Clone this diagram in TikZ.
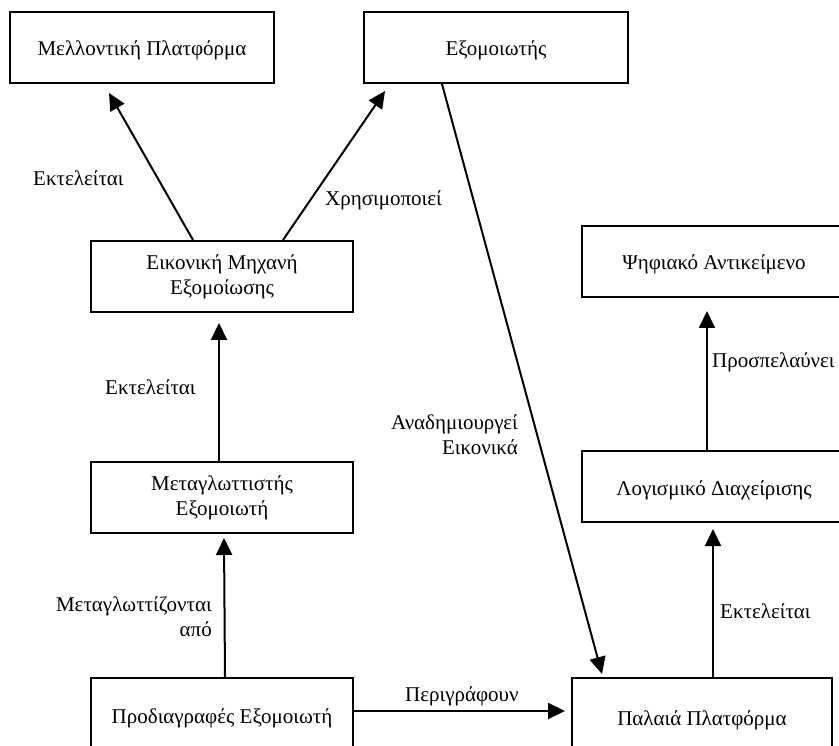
\documentclass[tikz,border=0pt]{standalone}
\usepackage{fontspec}
\setmainfont{Liberation Serif}
\usetikzlibrary{arrows.meta}
\tikzset{
  box/.style={draw=black, line width=2pt, rectangle, inner sep=0pt, minimum width=264pt, minimum height=71pt, align=center},
  onel/.style={text height=17pt, text depth=0pt},
  arr/.style={draw=black, line width=2pt, -{Triangle[length=17pt,width=16pt]}},
  lbl/.style={inner sep=0pt},
}
\begin{document}
\begin{tikzpicture}[x=1pt, y=-1pt, font=\fontsize{21}{25}\selectfont]
\useasboundingbox (0,0) rectangle (839,746);
\clip (0,0) rectangle (839,746);
% boxes
\node[box, onel] (fut) at (142,47.5) {Μελλοντική Πλατφόρμα};
\node[box, onel] (emu) at (496,47.5) {Εξομοιωτής};
\node[box, minimum width=262pt] (evm) at (222,276.5) {Εικονική Μηχανή\\Εξομοίωσης};
\node[box, minimum width=262pt] (comp) at (222,497.5) {Μεταγλωττιστής\\Εξομοιωτή};
\node[box, onel, minimum width=262pt, minimum height=74pt] (spec) at (222,715) {Προδιαγραφές Εξομοιωτή};
\node[box, onel] (dig) at (714,261.5) {Ψηφιακό Αντικείμενο};
\node[box, onel] (mgmt) at (714,486.5) {Λογισμικό Διαχείρισης};
\node[box, onel, minimum width=260pt, minimum height=78pt] (old) at (702,717) {Παλαιά Πλατφόρμα};
% connectors
\draw[arr] ([xshift=-29pt]evm.north) -- ([xshift=-33pt,yshift=-9pt]fut.south);
\draw[arr] ([xshift=61pt]evm.north) -- ([xshift=-111pt,yshift=-7pt]emu.south);
\draw[arr] ([xshift=-54pt]emu.south) -- ([xshift=-100pt,yshift=3pt]old.north);
\draw[arr] ([xshift=-3pt]comp.north) -- ([xshift=-3pt,yshift=-10pt]evm.south);
\draw[arr] ([xshift=3pt]spec.north) -- ([xshift=2pt,yshift=-4pt]comp.south);
\draw[arr] ([yshift=4pt]spec.east) -- ([xshift=-6pt,yshift=6pt]old.west);
\draw[arr] ([xshift=11pt]old.north) -- ([xshift=-1pt,yshift=-6pt]mgmt.south);
\draw[arr] ([xshift=-7pt]mgmt.north) -- ([xshift=-7pt,yshift=-13pt]dig.south);
% labels
\node[lbl, anchor=base west] (l1) at (33,186) {Εκτελείται};
\node[lbl, anchor=base west] (l2) at (325,206) {Χρησιμοποιεί};
\node[lbl, anchor=base west] (l3) at (105,395) {Εκτελείται};
\node[lbl, anchor=east, align=right] (l4) at (518,435) {Αναδημιουργεί\\Εικονικά};
\node[lbl, anchor=east, align=right] (l5) at (212,617) {Μεταγλωττίζονται\\από};
\node[lbl, anchor=base west] (l6) at (712,367) {Προσπελαύνει};
\node[lbl, anchor=base west] (l7) at (405,701) {Περιγράφουν};
\node[lbl, anchor=base west] (l8) at (720,618) {Εκτελείται};
\end{tikzpicture}
\end{document}
